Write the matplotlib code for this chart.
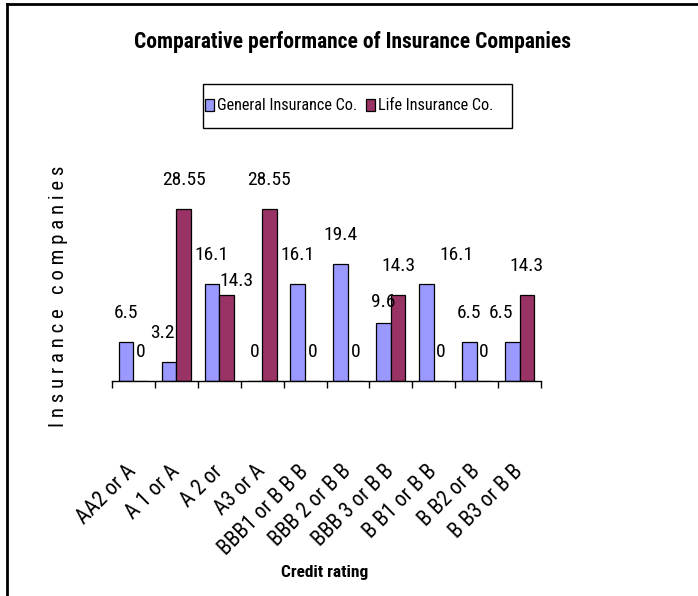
import matplotlib
matplotlib.use("Agg")
import matplotlib.pyplot as plt
from matplotlib import font_manager
from matplotlib.patches import Rectangle
import numpy as np

categories = ["AA2 or A", "A 1 or A", "A 2 or", "A3 or A", "BBB1 or B B B",
              "BBB 2 or B B", "BBB 3 or B B", "B B1 or B B", "B B2 or B", "B B3 or B B"]
general = [6.5, 3.2, 16.1, 0, 16.1, 19.4, 9.6, 16.1, 6.5, 6.5]
life = [0, 28.55, 14.3, 28.55, 0, 0, 14.3, 0, 0, 14.3]
series_names = ["General Insurance Co.", "Life Insurance Co."]
title = "Comparative performance of Insurance Companies"
xlabel = "Credit rating"
ylabel = "Insurance companies"

names = {f.name for f in font_manager.fontManager.ttflist}
FONT = next((n for n in ["Liberation Sans Narrow", "Arial Narrow", "Roboto Condensed",
                          "Open Sans Condensed", "Asap Condensed", "Liberation Sans"] if n in names),
            "DejaVu Sans")
plt.rcParams["font.family"] = [FONT, "DejaVu Sans"]

W, H, DPI = 698, 596, 100
fig = plt.figure(figsize=(W / DPI, H / DPI), dpi=DPI)

# frame lines (top and left)
fig.add_artist(plt.Line2D([7 / W, 7 / W], [0, 1 - 4 / H], color="black", lw=2, transform=fig.transFigure))
fig.add_artist(plt.Line2D([7 / W, 1], [1 - 4 / H, 1 - 4 / H], color="black", lw=2, transform=fig.transFigure))

left, right, base = 112, 541, 381
ymax = 35
pxu = 6.02
top = base - ymax * pxu
ax = fig.add_axes([left / W, 1 - base / H, (right - left) / W, (base - top) / H])

x = np.arange(len(categories))
bw = 0.34
ax.bar(x - bw / 2, general, bw, color="#9999FF", edgecolor="black", linewidth=0.9, label=series_names[0])
ax.bar(x + bw / 2, life, bw, color="#993366", edgecolor="black", linewidth=0.9, label=series_names[1])

ax.set_xlim(-0.5, len(categories) - 0.5)
ax.set_ylim(0, ymax)

for s in ["left", "right", "top"]:
    ax.spines[s].set_visible(False)
ax.spines["bottom"].set_linewidth(1.0)
ax.set_yticks([])
ax.set_xticks(np.arange(len(categories) + 1) - 0.5)
ax.set_xticklabels([])
ax.tick_params(axis="x", which="major", direction="out", length=5, width=1.0)
ax.set_xticks(x, minor=True)
ax.set_xticklabels(categories, minor=True, rotation=45, ha="right", va="center",
                   rotation_mode="anchor", fontsize=15.5)
ax.tick_params(axis="x", which="minor", length=0, pad=63)

# value labels (nudges in pixels: dx, dy)
nudge_g = {1: (-7, 0), 6: (0, -8), 7: (30, 0), 9: (-11, 0)}
nudge_l = {2: (10, -15)}
k = 0.72
for i, v in enumerate(general):
    dx, dy = nudge_g.get(i, (0, 0))
    ax.annotate(f"{v:g}", (x[i] - bw / 2, v), xytext=(dx * k, (29 + dy) * k), textcoords="offset points",
                ha="center", va="center", fontsize=14)
for i, v in enumerate(life):
    dx, dy = nudge_l.get(i, (0, 0))
    ax.annotate(f"{v:g}", (x[i] + bw / 2, v), xytext=(dx * k, (29 + dy) * k), textcoords="offset points",
                ha="center", va="center", fontsize=14)

fig.text(352.5 / W, 1 - 42 / H, title, ha="center", va="center", fontsize=15.5, fontweight="bold")
fig.text(325 / W, 1 - 572 / H, xlabel, ha="center", va="center", fontsize=12.5, fontweight="bold")
fig.text(58 / W, 1 - 296 / H, " ".join(ylabel), ha="center", va="center", rotation=90, fontsize=15)

# legend box
lx0, ly0, lx1, ly1 = 203, 84, 512, 128
fig.add_artist(Rectangle((lx0 / W, 1 - ly1 / H), (lx1 - lx0) / W, (ly1 - ly0) / H,
                         transform=fig.transFigure, fill=False, edgecolor="black", linewidth=1.0))
leg = fig.legend(loc="center left", bbox_to_anchor=(205 / W, 1 - 106 / H), ncol=2, frameon=False,
                 fontsize=11.7, handlelength=0.55, handleheight=0.8,
                 handletextpad=0.2, columnspacing=0.5, borderpad=0, borderaxespad=0)

fig.savefig("out.png", dpi=DPI)
